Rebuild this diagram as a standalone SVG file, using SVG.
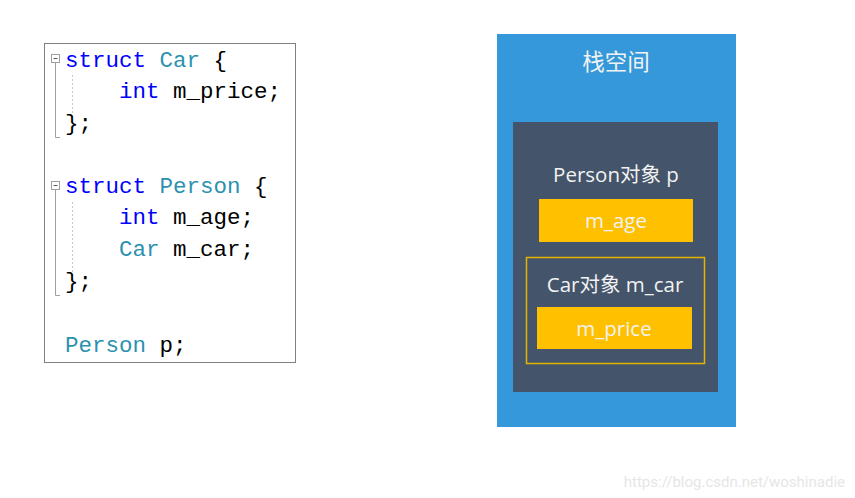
<svg xmlns="http://www.w3.org/2000/svg" width="855" height="498" viewBox="0 0 855 498">
<style>
.code{font-family:"Liberation Mono","DejaVu Sans Mono",monospace;font-size:22.5px;fill:#000}
.kw{fill:#0000ff}.ty{fill:#2b91af}
.lbl{font-family:"Open Sans","Noto Sans","Noto Sans CJK SC",sans-serif;fill:#f2f2f2;text-anchor:middle}
.fold{fill:none;stroke:#a0a0a0;stroke-width:1}
</style>
<rect width="855" height="498" fill="#fff"/>
<g id="code">
<rect x="44.5" y="43.5" width="251" height="319" fill="#fff" stroke="#808080" stroke-width="1"/>
<rect x="51.5" y="54.5" width="8" height="8" class="fold"/>
<line x1="53.5" y1="58.5" x2="57.5" y2="58.5" stroke="#606060"/>
<path d="M55.5 63 V137.5 H60" class="fold"/>
<line x1="72.5" y1="75" x2="72.5" y2="118" stroke="#c8c8c8" stroke-dasharray="2,2"/>
<rect x="51.5" y="181.5" width="8" height="8" class="fold"/>
<line x1="53.5" y1="185.5" x2="57.5" y2="185.5" stroke="#606060"/>
<path d="M55.5 190 V295.5 H60" class="fold"/>
<line x1="72.5" y1="202" x2="72.5" y2="277" stroke="#c8c8c8" stroke-dasharray="2,2"/>
<text class="code" x="65" y="67"><tspan class="kw">struct</tspan> <tspan class="ty">Car</tspan> {</text>
<text class="code" x="65" y="98" xml:space="preserve">    <tspan class="kw">int</tspan> m_price;</text>
<text class="code" x="65" y="130">};</text>
<text class="code" x="65" y="193"><tspan class="kw">struct</tspan> <tspan class="ty">Person</tspan> {</text>
<text class="code" x="65" y="224" xml:space="preserve">    <tspan class="kw">int</tspan> m_age;</text>
<text class="code" x="65" y="256" xml:space="preserve">    <tspan class="ty">Car</tspan> m_car;</text>
<text class="code" x="65" y="288">};</text>
<text class="code" x="65" y="352"><tspan class="ty">Person</tspan> p;</text>
</g>
<g id="stack">
<rect x="497" y="34" width="239" height="393" fill="#3498db"/>
<text class="lbl" x="616" y="70" font-size="22.5">栈空间</text>
</g>
<g id="person">
<rect x="513" y="122" width="205" height="270" fill="#44546a"/>
<text class="lbl" x="616" y="182" font-size="20.5">Person对象 p</text>
</g>
<g id="m_age">
<rect x="539" y="199" width="154" height="43" fill="#ffc000"/>
<text class="lbl" x="616" y="228" font-size="20.5">m_age</text>
</g>
<g id="car">
<rect x="526.5" y="257.5" width="178" height="106" fill="none" stroke="#e6b400" stroke-width="1.5"/>
<text class="lbl" x="615" y="292" font-size="20.5">Car对象 m_car</text>
</g>
<g id="m_price">
<rect x="537" y="307" width="155" height="42" fill="#ffc000"/>
<text class="lbl" x="614" y="336" font-size="20.5">m_price</text>
</g>
<g id="connectors"/>
<text x="845" y="487" text-anchor="end" font-family="Roboto,'Liberation Sans',sans-serif" font-size="15" fill="#e6e6e6">https://blog.csdn.net/woshinadie</text>
</svg>
